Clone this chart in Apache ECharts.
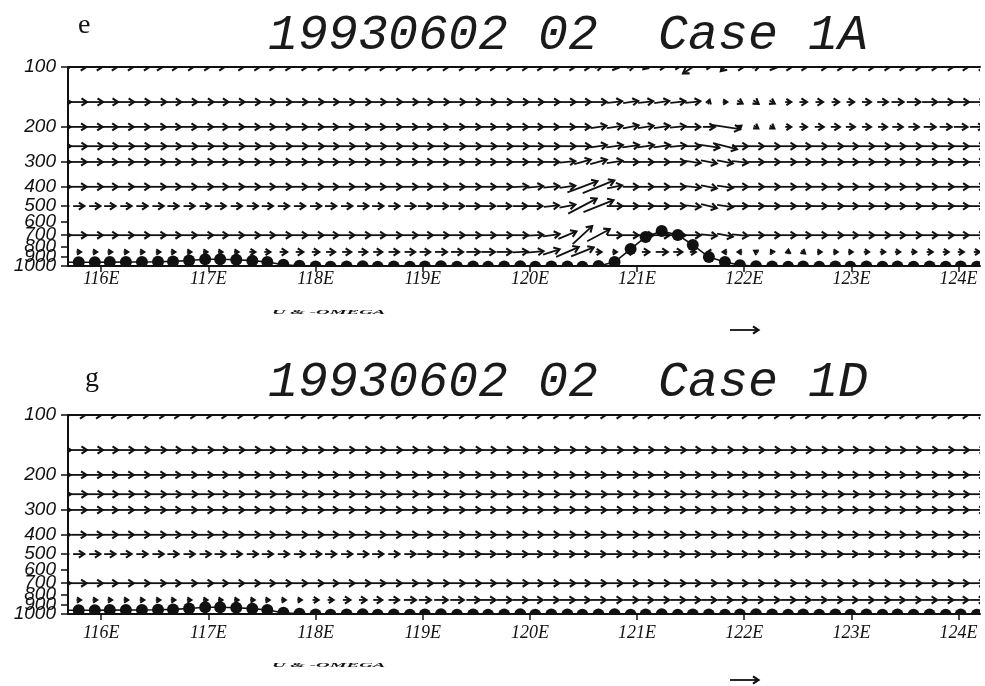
<!DOCTYPE html>
<html>
<head>
<meta charset="utf-8">
<title>U &amp; -OMEGA cross sections</title>
<script src="https://cdn.jsdelivr.net/npm/echarts@6/dist/echarts.min.js"></script>
<style>
  html, body { margin: 0; padding: 0; background: #fff; }
  #chart { width: 985px; height: 686px; }
</style>
</head>
<body>
<div id="chart"></div>
<script>
// grid longitudes (deg E), ~15 km apart
const lonPts = [115.64, 115.79, 115.94, 116.08, 116.23, 116.38, 116.53, 116.67, 116.82, 116.97,
  117.11, 117.26, 117.41, 117.55, 117.70, 117.85, 118.00, 118.14, 118.29, 118.44,
  118.58, 118.73, 118.88, 119.02, 119.17, 119.32, 119.47, 119.61, 119.76, 119.91,
  120.05, 120.20, 120.35, 120.49, 120.64, 120.79, 120.94, 121.08, 121.23, 121.38,
  121.52, 121.67, 121.82, 121.96, 122.11, 122.26, 122.41, 122.55, 122.70, 122.85,
  122.99, 123.14, 123.29, 123.43, 123.58, 123.73, 123.88, 124.02, 124.17];
const levels = [100, 150, 200, 250, 300, 400, 500, 700, 850];
const presTicks = [100, 200, 300, 400, 500, 600, 700, 800, 900, 1000];
const lonTicks = [116, 117, 118, 119, 120, 121, 122, 123, 124];

// ---- Case 1A : u per level, w given only where it is not ~0 ([lon, w])
const uA100 = [10, 10,10,10,10,10, 6,6,6,6,6, 10,10,10,10,10,10,10,10,10,10,
  10,10,10,10,10,10,10,10,10,10, 10,10,10, 5,5,5, -3, 4, 2, -13, 2, -5.5,
  5,5,5,5,5, 10,10,10,10,10,10,10,10,10,10,10];
const uA150 = [11,11,11,11,11,11,11,11,11,11, 11,11,11,11,11,11,11,11,11,11,
  11,11,11,11,11,11,11,11,11,11, 11,11,11,11,11, 10,10,10,10,10,10,
  1,3,3.5,3.5,3.5,4, 5,5,5,5, 6,7,8,9,10,10,11,11];
const uA200 = [10.5,10.5,10.5,10.5,10.5,10.5,10.5,10.5,10.5,10.5, 10.5,10.5,10.5,10.5,10.5,10.5,10.5,10.5,10.5,10.5,
  10.5,10.5,10.5,10.5,10.5,10.5,10.5,10.5,10.5,10.5, 10.5,10.5,10.5,10.5,10.5,10.5,10.5,10.5,10.5,10.5,
  10, 8, 20, 2, 3, 3, 4, 5, 6,6,6,6,6, 7,7,8,8,9,9];
const uA250 = [11,11,11,11,11,11,11,11,11,11, 11,11,11,11,11,11,11,11,11,11,
  11,11,11,11,11,11,11,11,11,11, 11,11,11,11,11,11,11,11,11,11,
  10, 14, 16, 10.5,10.5,10.5,10.5,10.5,10.5,10.5,10.5, 10.5,10.5,10.5,10.5,10.5,10.5,10.5,10.5];
const uA300 = [10.5,10.5,10.5,10.5,10.5,10.5,10.5,10.5,10.5,10.5, 10.5,10.5,10.5,10.5,10.5,10.5,10.5,10.5,10.5,10.5,
  10.5,10.5,10.5,10.5,10.5,10.5,10.5,10.5,10.5,10.5, 10.5,10.5,10.5,11,11, 10.5,10.5,10.5,10.5,10.5,
  10.5,10.5,10.5,10.5,10.5,10.5,10.5,10.5,10.5,10.5, 10.5,10.5,10.5,10.5,10.5,10.5,10.5,10.5,10.5];
const uA400 = [10.5,10.5,10.5,10.5,10.5,10.5,10.5,10.5,10.5,10.5, 10.5,10.5,10.5,10.5,10.5,10.5,10.5,10.5,10.5,10.5,
  10.5,10.5,10.5,10.5,10.5,10.5,10.5,10.5,10.5,10.5, 10.5,10.5,10.5,20,21,10,
  10.5,10.5,10.5,10.5,10.5,10.5,10.5,10.5,10.5,10.5, 10.5,10.5,10.5,10.5,10.5,10.5,10.5,10.5,10.5,10.5,10.5,10.5,10.5];
const uA500 = [7.5,7.5,7.5,7.5,7.5,7.5,7.5,7.5,7.5,7.5, 7.5,7.5,7.5,7.5,7.5,7.5,7.5,7.5,7.5,7.5,
  7.5,7.5,7.5, 9.5,9.5,9.5,9.5,9.5,9.5,9.5,9.5, 10,10.5,19,20,
  10.5,10.5,10.5,10.5,10.5,10.5,10.5,10.5,10.5,10.5, 10.5,10.5,10.5,10.5,10.5,10.5,10.5,10.5,10.5,10.5,10.5,10.5,10.5,10.5];
const uA700 = [10.5,10.5,10.5,10.5,10.5,10.5,10.5,10.5,10.5,10.5, 10.5,10.5,10.5,10.5,10.5,10.5,10.5,10.5,10.5,10.5,
  10.5,10.5,10.5,10.5,10.5,10.5,10.5,10.5,10.5,10.5, 10.5,11,12,13,15,10,
  10.5,10.5,10.5,10.5,10.5,10.5,10.5,10.5,10.5,10.5, 10.5,10.5,10.5,10.5,10.5,10.5,10.5,10.5,10.5,10.5,10.5,10.5,10.5];
const uA850 = [3,3,3,3,3,3,3,3,3,3, 3,3, 4,4,5,5,5,6,6, 6,6,7,7,7,8,8,9,9, 10,10,11,
  11,15,15,4,3,4,5,8,6,4, -2,-3,-3,-2.5,-1.5,0.3,2.5, 3,3,3,3.5,3.5,3.5,3.5,4,4,4,4];

const wA100 = [[120.64, 1], [120.79, -1], [120.94, 1], [121.08, -3], [121.52, -8.5], [121.82, -5.5], [122.11, 1], [122.26, -1]];
const wA150 = [[120.79, 1], [120.94, 1.5], [121.08, 1], [121.23, 1.5], [121.38, 1], [121.52, 1], [121.67, 3], [121.96, -2], [122.11, -2.5], [122.26, -2]];
const wA200 = [[120.64, 1.5], [120.79, 1.5], [120.94, 2], [121.08, 1.5], [121.23, 1.5], [121.38, 1], [121.82, -3], [121.96, 1.5], [122.11, -2], [122.26, -2]];
const wA250 = [[120.64, 1.5], [120.79, 1.5], [120.94, 1.5], [121.08, 1.5], [121.23, 1.5], [121.38, 1], [121.67, -2], [121.82, -4]];
const wA300 = [[120.35, 1], [120.49, 3], [120.64, 3], [120.79, 1.5], [121.52, -1.5], [121.67, -2], [121.82, -2], [121.96, -1]];
const wA400 = [[119.91, 0.5], [120.05, 1], [120.20, 1], [120.35, 1.5], [120.49, 7.5], [120.64, 8.5], [120.79, 2], [121.52, -1], [121.67, -2], [121.82, -1.5]];
const wA500 = [[120.20, 1], [120.35, 2], [120.49, 10], [120.64, 8], [121.52, -1], [121.67, -2.5], [121.82, -1.5]];
const wA700 = [[120.05, 0.5], [120.20, 1.5], [120.35, 5], [120.49, 12], [120.64, 8], [121.67, -1], [121.82, -2], [121.96, -1]];
const wA850 = [[119.91, 0.5], [120.05, 1], [120.20, 3.5], [120.35, 6.5], [120.49, 6], [120.94, 1], [122.11, 1.5], [122.26, 2.5], [122.41, 3], [122.55, -2]];

// surface pressure (hPa) under each column, Case 1A (Taiwan terrain at 121E)
const psA = [958, 958,957,956,955,954,952,948,938,925,925, 930,940,955,985,998,
  1006,1008,1006,1004,1008,1006,1008,1006,1004,1008,1006,1008,1006,1004,1008,1006,1006,1008,
  1000,955,822,714,667,698,784,902,955,990,1004,
  1005,1008,1005,1008,1005,1008,1005,1008,1005,1008,1005,1008,1005,1008];

// ---- Case 1D : no terrain over Taiwan, flow nearly uniform
const uD100 = [9,9,9,9,9,9,9,9,9,9, 9,9,9,9,9,9, 10,10,10,10, 10,10,10,10,10,10,10,10,10,10,
  10,10,10,10,10,10,10,10,10,10, 10,10,10,10,10,10,10,10,10,10, 10,10,10,10,10,10,10,10,10];
const uD150 = [11,11,11,11,11,11,11,11,11,11, 11,11,11,11,11,11,11,11,11,11, 11,11,11,11,11,11,11,11,11,11,
  11,11,11,11,11,11,11,11,11,11, 11,11,11,11,11,11,11,11,11,11, 11,11,11,11,11,11,11,11,11];
const uD200 = [10.5,10.5,10.5,10.5,10.5,10.5,10.5,10.5,10.5,10.5, 10.5,10.5,10.5,10.5,10.5,10.5,10.5,10.5,10.5,10.5,
  10.5,10.5,10.5,10.5,10.5,10.5,10.5,10.5,10.5,10.5, 10.5,10.5,10.5,10.5,10.5,10.5,10.5,10.5,10.5,10.5,
  10.5,10.5,10.5,10.5,10.5,10.5,10.5,10.5,10.5,10.5, 10.5,10.5,10.5,10.5,10.5,10.5,10.5,10.5,10.5];
const uD250 = [11,11,11,11,11,11,11,11,11,11, 11,11,11,11,11,11,11,11,11,11, 11,11,11,11,11,11,11,11,11,11,
  11,11,11,11,11,11,11,11,11,11, 11,11,11,11,11,11,11,11,11,11, 11,11,11,11,11,11,11,11,11];
const uD300 = [10.5,10.5,10.5,10.5,10.5,10.5,10.5,10.5,10.5,10.5, 10.5,10.5,10.5,10.5,10.5,10.5,10.5,10.5,10.5,10.5,
  10.5,10.5,10.5,10.5,10.5,10.5,10.5,10.5,10.5,10.5, 10.5,10.5,10.5,10.5,10.5,10.5,10.5,10.5,10.5,10.5,
  10.5,10.5,10.5,10.5,10.5,10.5,10.5,10.5,10.5,10.5, 10.5,10.5,10.5,10.5,10.5,10.5,10.5,10.5,10.5];
const uD400 = [10,10,10,10.5,10.5,10.5,10.5,10.5,10.5,10.5, 10.5,10.5,10.5,10.5,10.5,10.5,10.5,10.5,10.5,10.5,
  10.5,10.5,10.5,10.5,10.5,10.5,10.5,10.5,10.5,10.5, 10.5,10.5,10.5,10.5,10.5,10.5,10.5,10.5,10.5,10.5,
  10.5,10.5,10.5,10.5,10.5,10.5,10.5,10.5,10.5,10.5, 10.5,10.5,10.5,10.5,10.5,10.5,10.5,10.5,10.5];
const uD500 = [7.5,7.5,7.5,7.5,7.5,7.5,7.5,7.5,7.5,7.5, 7.5,7.5,7.5,7.5,7.5,7.5,7.5,7.5,7.5,7.5, 7.5,7.5,7.5,
  10,10,10,10,10,10,10, 10,10,10,10,10,10,10,10,10,10, 10,10,10,10,10,10,10,10,10,10, 10,10,10,10,10,10,10,10,10];
const uD700 = [10.5,10.5,10.5,10.5,10.5,10.5,10.5,10.5,10.5,10.5, 10.5,10.5,10.5,10.5,10.5,10.5,10.5,10.5,10.5,10.5,
  10.5,10.5,10.5,10.5,10.5,10.5,10.5,10.5,10.5,10.5, 10.5,10.5,10.5,10.5,10.5,10.5,10.5,10.5,10.5,10.5,
  10.5,10.5,10.5,10.5,10.5,10.5,10.5,10.5,10.5,10.5, 10.5,10.5,10.5,10.5,10.5,10.5,10.5,10.5,10.5];
const uD850 = [3,3,3,3,3,3,3,3,3,3, 3,3,3,3,3,3, 4,4,5,5,6,7, 8,8,9,9,9,
  10,10,10,10,10,10,10,10,10,10, 10,10,10,10,10,10,10,10,10,10, 10,10,10,10,10,10,10,10,10,10,10,10];

const psD = [958, 958,957,956,955,954,952,948,938,925,925, 930,940,955,985,998,
  1006,1008,1006,1004,1008,1006,1008,1006,1004,1008,1006,1008,1006,1004,1008,1006,1006,1008,
  1006,1004,1008,1006,1004,1008,1006,1005,1008,1006,1004,
  1005,1008,1005,1008,1005,1008,1005,1008,1005,1008,1005,1008,1005,1008];

const refU = 19; // key vector under each panel

const INK = '#111';
const K = 1.5; // px per unit of u / w
const lonMin = 115.69, lonMax = 124.2;

// log-pressure coordinate, exact at the decades
function lp(p) { return p === 1000 ? 3 : (p === 100 ? 2 : Math.log10(p)); }

function vectorData(uRows, wRows) {
  const out = [];
  levels.forEach((p, k) => {
    const w = lonPts.map(() => 0);
    (wRows[k] || []).forEach(([lon, val]) => {
      const j = lonPts.findIndex(x => Math.abs(x - lon) < 0.005);
      if (j >= 0) w[j] = val;
    });
    lonPts.forEach((lon, j) => out.push([lon, lp(p), uRows[k][j], w[j]]));
  });
  return out;
}

function arrowShape(cx, cy, dx, dy) {
  const len = Math.hypot(dx, dy);
  if (len < 0.5) return [];
  const ux = dx / len, uy = dy / len;
  const x0 = cx - dx / 2, y0 = cy - dy / 2, x1 = cx + dx / 2, y1 = cy + dy / 2;
  const h = Math.min(5.5, Math.max(4, len * 0.8)), hw = h * 0.65;
  const bx = x1 - ux * h, by = y1 - uy * h;
  return [
    { type: 'line', shape: { x1: x0, y1: y0, x2: x1, y2: y1 }, style: { stroke: INK, lineWidth: 1.8 } },
    { type: 'polyline', shape: { points: [[bx - uy * hw, by + ux * hw], [x1, y1], [bx + uy * hw, by - ux * hw]] },
      style: { stroke: INK, fill: null, lineWidth: 2.1, lineJoin: 'miter' } }
  ];
}

function renderArrow(params, api) {
  const c = api.coord([api.value(0), api.value(1)]);
  return { type: 'group', children: arrowShape(c[0], c[1], api.value(2) * K, -api.value(3) * K) };
}

function renderDot(params, api) {
  const c = api.coord([api.value(0), api.value(1)]);
  return { type: 'circle', shape: { cx: c[0], cy: c[1], r: 6 }, style: { fill: INK } };
}

function panelSeries(gi, uRows, wRows, ps) {
  const ground = lonPts.map((lon, j) => [lon, lp(ps[j])]);
  return [
    { type: 'custom', xAxisIndex: gi * 2, yAxisIndex: gi, clip: true, renderItem: renderArrow,
      encode: { x: 0, y: 1 }, data: vectorData(uRows, wRows), z: 2 },
    { type: 'line', xAxisIndex: gi * 2, yAxisIndex: gi, data: ground, showSymbol: false, clip: true,
      lineStyle: { color: INK, width: 1.6 }, z: 3 },
    { type: 'custom', xAxisIndex: gi * 2, yAxisIndex: gi, clip: true, renderItem: renderDot,
      encode: { x: 0, y: 1 }, data: ground, z: 4 }
  ];
}

function xAxes(gi, margin) {
  return [{
    gridIndex: gi, type: 'value', min: lonMin, max: lonMax, position: 'bottom', z: 6,
    axisLine: { show: true, lineStyle: { color: INK, width: 2 } },
    axisTick: { show: true, customValues: lonTicks, length: 6, lineStyle: { color: INK, width: 1.5 } },
    axisLabel: { customValues: lonTicks, formatter: v => v + 'E', margin: margin, color: INK,
      fontFamily: 'Liberation Serif', fontStyle: 'italic', fontSize: 18 },
    splitLine: { show: false }
  }, {
    gridIndex: gi, type: 'value', min: lonMin, max: lonMax, position: 'top', z: 6,
    axisLine: { show: true, lineStyle: { color: INK, width: 2 } },
    axisTick: { show: false }, axisLabel: { show: false }, splitLine: { show: false }
  }];
}

const yLabelStyle = { color: INK, fontFamily: 'Liberation Sans', fontStyle: 'italic', fontSize: 19, margin: 12,
  formatter: v => String(Math.round(Math.pow(10, v))) };

// main pressure axis; the 900 label sits on a twin axis so that it is not dropped next to 1000
function yAxes(gi) {
  const vals = presTicks.map(lp);
  const main = vals.filter((v, k) => presTicks[k] !== 900);
  const twin = vals.filter((v, k) => presTicks[k] === 900);
  return [{
    gridIndex: gi, type: 'value', min: 2, max: 3, inverse: true, z: 6,
    axisLine: { show: true, lineStyle: { color: INK, width: 2 } },
    axisTick: { show: true, customValues: vals, length: 7, lineStyle: { color: INK, width: 1.5 } },
    axisLabel: Object.assign({ customValues: main, showMinLabel: true, showMaxLabel: true }, yLabelStyle),
    splitLine: { show: false }
  }, {
    gridIndex: gi, type: 'value', min: 2, max: 3, inverse: true, position: 'left', z: 6,
    axisLine: { show: false }, axisTick: { show: false },
    axisLabel: Object.assign({ customValues: twin }, yLabelStyle),
    splitLine: { show: false }
  }];
}

function keyGraphics(textY, arrowY) {
  const len = refU * K;
  return [
    { type: 'text', x: 272, y: textY, scaleX: 2.7, scaleY: 1,
      style: { text: 'U & -OMEGA', font: 'bold italic 7px "Liberation Serif"', fill: INK, verticalAlign: 'middle' } },
    { type: 'group', children: arrowShape(730 + len / 2, arrowY, len, 0) }
  ];
}

const yA = yAxes(0), yD = yAxes(1);

const chart = echarts.init(document.getElementById('chart'), null, { renderer: 'canvas' });
chart.setOption({
  animation: false,
  backgroundColor: '#fff',
  grid: [
    { left: 68, top: 67, width: 912, height: 199 },
    { left: 68, top: 415, width: 912, height: 199 }
  ],
  xAxis: [...xAxes(0, 4), ...xAxes(1, 10)],
  yAxis: [yA[0], yD[0], yA[1], yD[1]],
  series: [
    ...panelSeries(0, [uA100, uA150, uA200, uA250, uA300, uA400, uA500, uA700, uA850],
      [wA100, wA150, wA200, wA250, wA300, wA400, wA500, wA700, wA850], psA),
    ...panelSeries(1, [uD100, uD150, uD200, uD250, uD300, uD400, uD500, uD700, uD850], [], psD)
  ],
  graphic: [
    { type: 'text', x: 78, y: 26, style: { text: 'e', font: '28px "Liberation Serif"', fill: INK, verticalAlign: 'middle' } },
    { type: 'text', x: 85, y: 379, style: { text: 'g', font: '28px "Liberation Serif"', fill: INK, verticalAlign: 'middle' } },
    { type: 'text', x: 268, y: 36, style: { text: '19930602 02  Case 1A', font: 'italic 50px "Liberation Mono"', fill: '#1a1a1a', verticalAlign: 'middle' } },
    { type: 'text', x: 268, y: 383, style: { text: '19930602 02  Case 1D', font: 'italic 50px "Liberation Mono"', fill: '#1a1a1a', verticalAlign: 'middle' } },
    ...keyGraphics(312, 330),
    ...keyGraphics(665, 680)
  ]
});
</script>
</body>
</html>
